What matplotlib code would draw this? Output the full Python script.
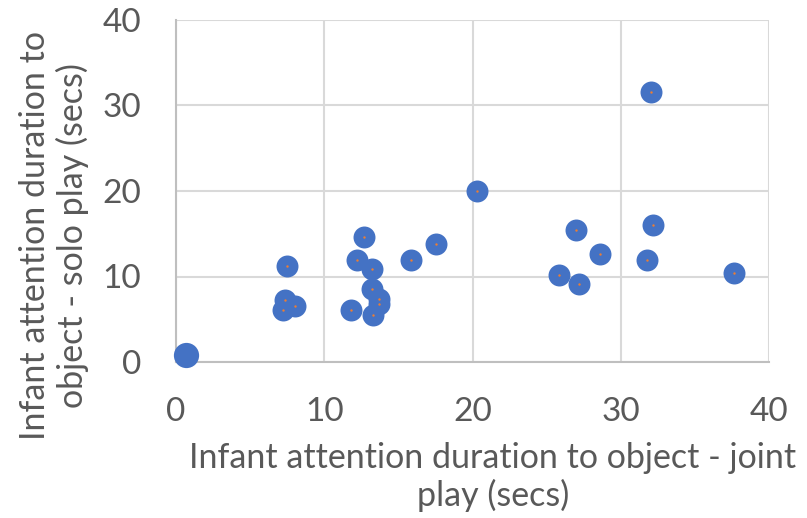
import matplotlib
matplotlib.use("Agg")
import matplotlib.pyplot as plt

# ---- data ----
joint_secs = [7.49, 7.38, 8.0, 7.24, 12.66, 12.19, 13.2, 13.2, 13.68, 13.72,
              11.81, 13.32, 15.84, 17.52, 20.29, 32.05, 26.99, 28.6, 25.84,
              27.17, 32.16, 31.78, 37.67]
solo_secs = [11.25, 7.23, 6.53, 6.14, 14.65, 11.89, 10.9, 8.52, 7.35, 6.76,
             6.03, 5.47, 11.89, 13.83, 19.97, 31.54, 15.4, 12.66, 10.2,
             9.14, 16.06, 11.89, 10.43]
# overlapping points near the origin drawn as one bigger blob
origin_joint = [0.68]
origin_solo = [0.86]

ticks = [0, 10, 20, 30, 40]
x_title = "Infant attention duration to object - joint\nplay (secs)"
y_title = "Infant attention duration to\nobject - solo play (secs)"

BLUE = "#4472C4"
ORANGE = "#ED7D31"
GRID = "#D9D9D9"
AXIS = "#BFBFBF"
TXT = "#595959"

plt.rcParams["font.family"] = ["Lato", "DejaVu Sans"]

W, H = 807, 518
fig = plt.figure(figsize=(W / 100, H / 100), dpi=100)
ax = fig.add_axes([176 / W, (H - 362) / H, (769 - 176) / W, (362 - 20) / H])

ax.set_xlim(0, 40)
ax.set_ylim(0, 40)
ax.set_xticks(ticks)
ax.set_yticks(ticks)
ax.grid(True, color=GRID, linewidth=1.5, zorder=0)
ax.set_axisbelow(True)

for side in ["top", "right"]:
    ax.spines[side].set_visible(False)
for side in ["left", "bottom"]:
    ax.spines[side].set_color(AXIS)
    ax.spines[side].set_linewidth(1.5)

ax.tick_params(length=0, labelsize=24, labelcolor=TXT)
ax.tick_params(axis="y", pad=25)
ax.tick_params(axis="x", pad=25)

ax.scatter(joint_secs, solo_secs, s=250, color=BLUE, linewidths=0,
           zorder=3, clip_on=False)
ax.scatter(origin_joint, origin_solo, s=330, color=BLUE, linewidths=0,
           zorder=3, clip_on=False)
ax.scatter(joint_secs, solo_secs, s=3, color=ORANGE, linewidths=0,
           zorder=4, clip_on=False)

fig.text(493 / W, (H - 477) / H, x_title, ha="center", va="center",
         fontsize=24.5, color=TXT, linespacing=1.15)
fig.text(54 / W, (H - 236) / H, y_title, ha="center", va="center",
         rotation=90, fontsize=24.5, color=TXT, linespacing=1.15)

fig.savefig("out.png", dpi=100, facecolor="white")
